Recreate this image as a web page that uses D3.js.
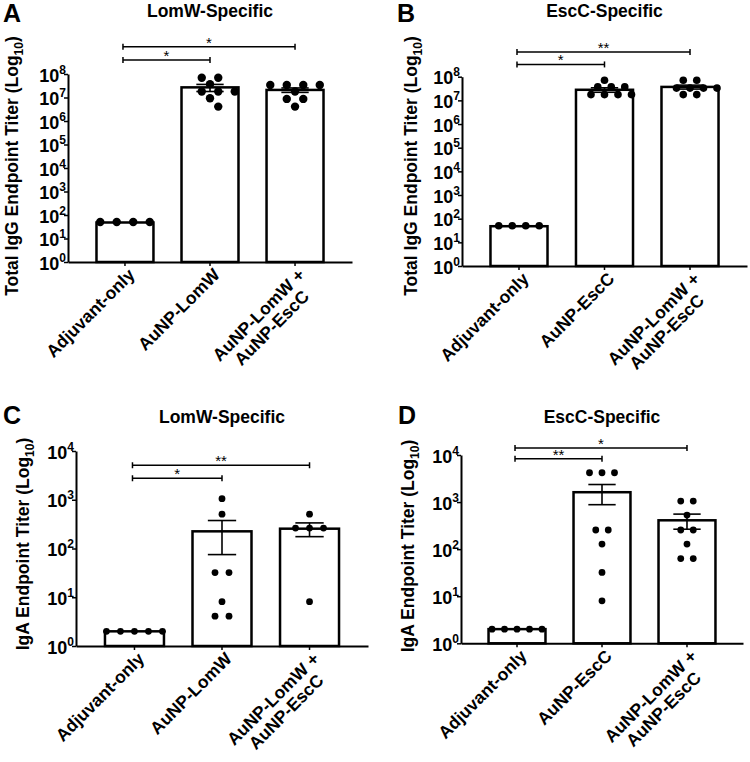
<!DOCTYPE html>
<html>
<head>
<meta charset="utf-8">
<script src="https://cdn.jsdelivr.net/npm/d3@7"></script>
<style>
  body { margin: 0; background: #fff; }
  svg { display: block; font-family: "Liberation Sans", Arial, Helvetica, sans-serif; }
</style>
</head>
<body>
<div id="viz"></div>
<script>
// ---- data ----
const catsLomW = [["Adjuvant-only"], ["AuNP-LomW"], ["AuNP-LomW +", "AuNP-EscC"]];
const catsEscC = [["Adjuvant-only"], ["AuNP-EscC"], ["AuNP-LomW +", "AuNP-EscC"]];
const expsIgG = [0, 1, 2, 3, 4, 5, 6, 7, 8];
const expsIgA = [0, 1, 2, 3, 4];

// A: IgG, LomW-specific
const dotsA = [
  [50, 50, 50, 50],
  [6.9e7, 6.9e7, 3.7e7, 1.8e7, 1.8e7, 1.8e7, 9.3e6, 4.1e6],
  [3.4e7, 3.4e7, 3.4e7, 3.4e7, 1.8e7, 8.7e6, 8.7e6, 4.1e6]
];
const meansA = [48, 2.7e7, 2.1e7];
const semA = [0, 0.9e7, 0.45e7];
const sigA = [{ a: 0, b: 1, label: "*", at: 3.9e8 }, { a: 0, b: 2, label: "*", at: 1.45e9 }];

// B: IgG, EscC-specific
const dotsB = [
  [50, 50, 50, 50],
  [7.1e7, 3.7e7, 3.7e7, 3.7e7, 1.75e7, 1.75e7, 1.75e7, 1.75e7],
  [7.1e7, 7.1e7, 3.3e7, 3.3e7, 3.3e7, 3.3e7, 1.75e7, 1.75e7]
];
const meansB = [48, 2.8e7, 3.7e7];
const semB = [0, 0.6e7, 0.7e7];
const sigB = [{ a: 0, b: 1, label: "*", at: 3.3e8 }, { a: 0, b: 2, label: "**", at: 1.1e9 }];

// C: IgA, LomW-specific
const dotsC = [
  [2, 2, 2, 2, 2],
  [1050, 505, 32, 32, 8.1, 4.1, 4.1],
  [505, 262, 262, 262, 8.1]
];
const meansC = [2, 225, 255];
const semC = [0, 150, 80];
const sigC = [{ a: 0, b: 1, label: "*", at: 2760 }, { a: 0, b: 2, label: "**", at: 5100 }];

// D: IgA, EscC-specific
const dotsD = [
  [2, 2, 2, 2, 2],
  [4200, 4200, 4200, 255, 255, 128, 32, 8],
  [1050, 1050, 530, 255, 255, 128, 63, 63]
];
const meansD = [2, 1620, 410];
const semD = [0, 740, 145];
const sigD = [{ a: 0, b: 1, label: "**", at: 8300 }, { a: 0, b: 2, label: "*", at: 14000 }];

// ---- layout ----
const panels = [
  { letter: "A", title: "LomW-Specific", ylab: "Total IgG Endpoint Titer (Log", cats: catsLomW, exps: expsIgG,
    dots: dotsA, means: meansA, sem: semA, sig: sigA,
    x0: 68, x1: 352, yTop: 74, yBot: 262, pi: 0.33, po: 0.335, r: 4.2, sp: 16.5,
    lx: 3, ly: 22, ty: 17, labX: 18, labY: 166 },
  { letter: "B", title: "EscC-Specific", ylab: "Total IgG Endpoint Titer (Log", cats: catsEscC, exps: expsIgG,
    dots: dotsB, means: meansB, sem: semB, sig: sigB,
    x0: 462, x1: 747, yTop: 76.7, yBot: 266, pi: 0.333, po: 0.333, r: 3.8, sp: 13.5,
    lx: 397, ly: 22, ty: 17, labX: 417, labY: 166 },
  { letter: "C", title: "LomW-Specific", ylab: "IgA Endpoint Titer (Log", cats: catsLomW, exps: expsIgA,
    dots: dotsC, means: meansC, sem: semC, sig: sigC,
    x0: 76, x1: 368, yTop: 451, yBot: 646, pi: 0.326, po: 0.331, r: 3.4, sp: 14,
    lx: 3, ly: 424, ty: 423, labX: 29, labY: 544 },
  { letter: "D", title: "EscC-Specific", ylab: "IgA Endpoint Titer (Log", cats: catsEscC, exps: expsIgA,
    dots: dotsD, means: meansD, sem: semD, sig: sigD,
    x0: 461, x1: 743, yTop: 455, yBot: 643.3, pi: 0.33, po: 0.324, r: 3.4, sp: 12.5,
    lx: 398, ly: 424, ty: 423, labX: 414, labY: 546 }
];

const svg = d3.select("#viz").append("svg")
  .attr("width", 750)
  .attr("height", 762);

// rows of equal values, centred; a row that would overlap the one above is shifted half a step
function swarm(vals, yPos, r, sp) {
  const rows = d3.groups(vals, v => v).sort((a, b) => b[0] - a[0]);
  const placed = [];
  rows.forEach(([v, arr]) => {
    const yy = yPos(v);
    const base = arr.map((_, i) => (i - (arr.length - 1) / 2) * sp);
    let offs = base;
    for (const shift of [0, sp / 2, -sp / 2]) {
      offs = base.map(o => o + shift);
      const hit = offs.some(o => placed.some(q => Math.hypot(q.dx - o, q.y - yy) < 2 * r + 0.5));
      if (!hit) break;
    }
    offs.forEach(o => placed.push({ dx: o, y: yy }));
  });
  return placed;
}

function drawPanel(p) {
  const g = svg.append("g");
  const idx = d3.range(p.cats.length);
  const x = d3.scaleBand().domain(idx).range([p.x0, p.x1])
    .paddingInner(p.pi).paddingOuter(p.po);
  const top = Math.pow(10, p.exps[p.exps.length - 1]);
  const y = d3.scaleLog().domain([1, top]).range([p.yBot, p.yTop]);

  // panel letter and title
  g.append("text").attr("x", p.lx).attr("y", p.ly)
    .attr("font-size", 25).attr("font-weight", "bold").text(p.letter);
  g.append("text").attr("x", (p.x0 + p.x1) / 2).attr("y", p.ty)
    .attr("text-anchor", "middle").attr("font-size", 17.5).attr("font-weight", "bold").text(p.title);

  // y axis
  const ya = g.append("g").attr("transform", `translate(${p.x0},0)`)
    .call(d3.axisLeft(y).tickValues(p.exps.map(e => Math.pow(10, e)))
      .tickSize(4).tickSizeOuter(0).tickFormat(""));
  ya.select(".domain").attr("stroke-width", 2);
  ya.selectAll(".tick line").attr("stroke-width", 1.5);
  const tl = ya.selectAll(".tick").append("text")
    .attr("x", -2).attr("y", 7).attr("fill", "#000")
    .attr("text-anchor", "end").attr("font-size", 18).attr("font-weight", "bold")
    .attr("font-family", '"Liberation Sans", Arial, sans-serif');
  tl.append("tspan").text("10");
  tl.append("tspan").attr("dy", -8).attr("font-size", 12).text(d => Math.round(Math.log10(d)));

  // y label
  const yl = g.append("text")
    .attr("transform", `translate(${p.labX},${p.labY}) rotate(-90)`)
    .attr("text-anchor", "middle").attr("font-size", 17.5).attr("font-weight", "bold");
  yl.append("tspan").text(p.ylab);
  yl.append("tspan").attr("dy", 5).attr("font-size", 12).text("10");
  yl.append("tspan").attr("dy", -5).text(")");

  // bars
  g.selectAll(".bar").data(p.means).enter().append("rect")
    .attr("x", (d, i) => x(i))
    .attr("width", x.bandwidth())
    .attr("y", d => y(d))
    .attr("height", d => p.yBot - y(d))
    .attr("fill", "#fff").attr("stroke", "#000").attr("stroke-width", 2.5);

  // x axis
  const xa = g.append("g").attr("transform", `translate(0,${p.yBot})`)
    .call(d3.axisBottom(x).tickSize(4).tickSizeOuter(0).tickFormat(""));
  xa.select(".domain").attr("stroke-width", 2);
  xa.selectAll(".tick line").attr("stroke-width", 1.5);

  // category labels, rotated, multi-line centred on the longest line
  idx.forEach(i => {
    const lab = g.append("g")
      .attr("transform", `translate(${x(i) + x.bandwidth() / 2 + 2},${p.yBot + 5}) rotate(-45)`);
    const t = lab.append("text").attr("font-size", 17.5).attr("font-weight", "bold")
      .attr("text-anchor", "middle");
    const spans = p.cats[i].map((s, k) => t.append("tspan").attr("x", 0)
      .attr("dy", k === 0 ? "0.72em" : "1.05em").text(s));
    const w = d3.max(spans, s => s.node().getComputedTextLength());
    spans.forEach(s => s.attr("x", -w / 2));
  });

  // error bars (mean ± SEM)
  const cap = x.bandwidth() * 0.24;
  idx.filter(i => p.sem[i] > 0).forEach(i => {
    const cx = x(i) + x.bandwidth() / 2;
    const hi = y(p.means[i] + p.sem[i]);
    const lo = y(p.means[i] - p.sem[i]);
    const e = g.append("g").attr("stroke", "#000").attr("stroke-width", 1.6);
    e.append("line").attr("x1", cx).attr("x2", cx).attr("y1", hi).attr("y2", lo);
    e.append("line").attr("x1", cx - cap).attr("x2", cx + cap).attr("y1", hi).attr("y2", hi);
    e.append("line").attr("x1", cx - cap).attr("x2", cx + cap).attr("y1", lo).attr("y2", lo);
  });

  // individual animals
  idx.forEach(i => {
    const cx = x(i) + x.bandwidth() / 2;
    const pts = swarm(p.dots[i], y, p.r, p.sp);
    g.selectAll(null).data(pts).enter().append("circle")
      .attr("cx", d => cx + d.dx)
      .attr("cy", d => d.y)
      .attr("r", p.r)
      .attr("fill", "#000");
  });

  // significance brackets
  p.sig.forEach(s => {
    const xa0 = x(s.a) + x.bandwidth() / 2 - 2;
    const xb0 = x(s.b) + x.bandwidth() / 2;
    const yy = y(s.at);
    const b = g.append("g").attr("stroke", "#000").attr("stroke-width", 1.5);
    b.append("line").attr("x1", xa0).attr("x2", xb0).attr("y1", yy).attr("y2", yy);
    b.append("line").attr("x1", xa0).attr("x2", xa0).attr("y1", yy - 3).attr("y2", yy + 3);
    b.append("line").attr("x1", xb0).attr("x2", xb0).attr("y1", yy - 3).attr("y2", yy + 3);
    g.append("text").attr("x", (xa0 + xb0) / 2).attr("y", yy + 1)
      .attr("text-anchor", "middle").attr("font-size", 15).text(s.label);
  });
}

panels.forEach(drawPanel);
</script>
</body>
</html>
